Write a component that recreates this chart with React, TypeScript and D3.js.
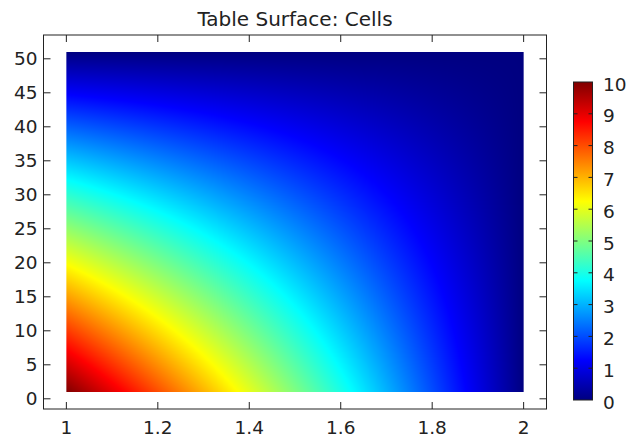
import React, { useMemo } from "react";
import * as d3 from "d3";

// ---- data ----
const xValues = [1, 1.1, 1.2, 1.3, 1.4, 1.5, 1.6, 1.7, 1.8, 1.9, 2];
const yValues = [1, 6, 11, 16, 21, 26, 31, 36, 41, 46, 51];
// rows follow yValues (bottom to top), columns follow xValues
const cellValues = [
  [10, 9, 8, 7, 6, 5, 4, 3, 2, 1, 0],
  [9, 8.1, 7.2, 6.3, 5.4, 4.5, 3.6, 2.7, 1.8, 0.9, 0],
  [8, 7.2, 6.4, 5.6, 4.8, 4, 3.2, 2.4, 1.6, 0.8, 0],
  [7, 6.3, 5.6, 4.9, 4.2, 3.5, 2.8, 2.1, 1.4, 0.7, 0],
  [6, 5.4, 4.8, 4.2, 3.6, 3, 2.4, 1.8, 1.2, 0.6, 0],
  [5, 4.5, 4, 3.5, 3, 2.5, 2, 1.5, 1, 0.5, 0],
  [4, 3.6, 3.2, 2.8, 2.4, 2, 1.6, 1.2, 0.8, 0.4, 0],
  [3, 2.7, 2.4, 2.1, 1.8, 1.5, 1.2, 0.9, 0.6, 0.3, 0],
  [2, 1.8, 1.6, 1.4, 1.2, 1, 0.8, 0.6, 0.4, 0.2, 0],
  [1, 0.9, 0.8, 0.7, 0.6, 0.5, 0.4, 0.3, 0.2, 0.1, 0],
  [0, 0, 0, 0, 0, 0, 0, 0, 0, 0, 0],
];
const xTicks = [1, 1.2, 1.4, 1.6, 1.8, 2];
const yTicks = [0, 5, 10, 15, 20, 25, 30, 35, 40, 45, 50];
const colorTicks = [0, 1, 2, 3, 4, 5, 6, 7, 8, 9, 10];
const jetStops = [0, 1.25, 3.75, 6.25, 8.75, 10];
const jetColors = ["#000080", "#0000ff", "#00ffff", "#ffff00", "#ff0000", "#800000"];
const title = "Table Surface: Cells";

const W = 628;
const H = 439;
const FONT = "DejaVu Sans, sans-serif";
const TXT = "#222";

export default function App() {
  const box = { left: 43.5, right: 546.5, top: 35, bottom: 409 };
  const x = d3.scaleLinear().domain([0.95, 2.05]).range([box.left, box.right]);
  const y = d3.scaleLinear().domain([-1.5, 53.5]).range([box.bottom, box.top]);
  const color = d3
    .scaleLinear<string>()
    .domain(jetStops)
    .range(jetColors)
    .interpolate(d3.interpolateRgb)
    .clamp(true);

  const cb = { left: 573.5, right: 592.5, top: 82, bottom: 400 };
  const cy = d3.scaleLinear().domain([0, 10]).range([cb.bottom, cb.top]);

  const x0 = x(xValues[0]);
  const x1 = x(xValues[xValues.length - 1]);
  const y0 = y(yValues[yValues.length - 1]);
  const y1 = y(yValues[0]);

  const href = useMemo(() => {
    const w = Math.round(x1 - x0);
    const h = Math.round(y1 - y0);
    const canvas = document.createElement("canvas");
    canvas.width = w;
    canvas.height = h;
    const ctx = canvas.getContext("2d");
    if (!ctx) return "";
    const img = ctx.createImageData(w, h);
    const xi = d3.scaleLinear().domain(xValues).range(d3.range(xValues.length)).clamp(true);
    const yi = d3.scaleLinear().domain(yValues).range(d3.range(yValues.length)).clamp(true);
    const nx = xValues.length;
    const ny = yValues.length;
    for (let py = 0; py < h; py++) {
      const yv = y.invert(y0 + ((py + 0.5) / h) * (y1 - y0));
      const fy = yi(yv);
      const j = Math.min(Math.floor(fy), ny - 2);
      const ty = fy - j;
      for (let px = 0; px < w; px++) {
        const xv = x.invert(x0 + ((px + 0.5) / w) * (x1 - x0));
        const fx = xi(xv);
        const i = Math.min(Math.floor(fx), nx - 2);
        const tx = fx - i;
        const v =
          cellValues[j][i] * (1 - tx) * (1 - ty) +
          cellValues[j][i + 1] * tx * (1 - ty) +
          cellValues[j + 1][i] * (1 - tx) * ty +
          cellValues[j + 1][i + 1] * tx * ty;
        const c = d3.rgb(color(v));
        const k = (py * w + px) * 4;
        img.data[k] = c.r;
        img.data[k + 1] = c.g;
        img.data[k + 2] = c.b;
        img.data[k + 3] = 255;
      }
    }
    ctx.putImageData(img, 0, 0);
    return canvas.toDataURL();
  }, []);

  const tickLen = 7;
  const cbTick = 4;

  return (
    <svg
      width={W}
      height={H}
      style={{ position: "absolute", left: 0, top: 0, background: "#fff" }}
      fontFamily={FONT}
    >
      <defs>
        <linearGradient id="jet" x1="0" y1="1" x2="0" y2="0">
          {jetStops.map((s, i) => (
            <stop key={i} offset={s / 10} stopColor={jetColors[i]} />
          ))}
        </linearGradient>
      </defs>
      <text x={(box.left + box.right) / 2} y={26} textAnchor="middle" fontSize={20} fill={TXT}>
        {title}
      </text>
      <image href={href} x={x0} y={y0} width={x1 - x0} height={y1 - y0} preserveAspectRatio="none" />
      <rect
        x={box.left}
        y={box.top}
        width={box.right - box.left}
        height={box.bottom - box.top}
        fill="none"
        stroke="#222"
        strokeWidth={1}
      />
      {xTicks.map((t) => (
        <g key={"x" + t}>
          <line x1={x(t)} x2={x(t)} y1={box.bottom} y2={box.bottom - tickLen} stroke="#222" />
          <line x1={x(t)} x2={x(t)} y1={box.top} y2={box.top + tickLen} stroke="#222" />
          <text x={x(t)} y={box.bottom + 25} textAnchor="middle" fontSize={18.5} fill={TXT}>
            {t}
          </text>
        </g>
      ))}
      {yTicks.map((t) => (
        <g key={"y" + t}>
          <line x1={box.left} x2={box.left + tickLen} y1={y(t)} y2={y(t)} stroke="#222" />
          <line x1={box.right} x2={box.right - tickLen} y1={y(t)} y2={y(t)} stroke="#222" />
          <text x={box.left - 6} y={y(t)} dy="0.36em" textAnchor="end" fontSize={18.5} fill={TXT}>
            {t}
          </text>
        </g>
      ))}
      <rect
        x={cb.left}
        y={cb.top}
        width={cb.right - cb.left}
        height={cb.bottom - cb.top}
        fill="url(#jet)"
        stroke="#222"
        strokeWidth={1}
      />
      {colorTicks.map((t) => (
        <g key={"c" + t}>
          {t > 0 && t < 10 && (
            <>
              <line x1={cb.left} x2={cb.left + cbTick} y1={cy(t)} y2={cy(t)} stroke="#222" />
              <line x1={cb.right} x2={cb.right - cbTick} y1={cy(t)} y2={cy(t)} stroke="#222" />
            </>
          )}
          <text x={603} y={cy(t) + 2} dy="0.36em" textAnchor="start" fontSize={18.5} fill={TXT}>
            {t}
          </text>
        </g>
      ))}
    </svg>
  );
}
